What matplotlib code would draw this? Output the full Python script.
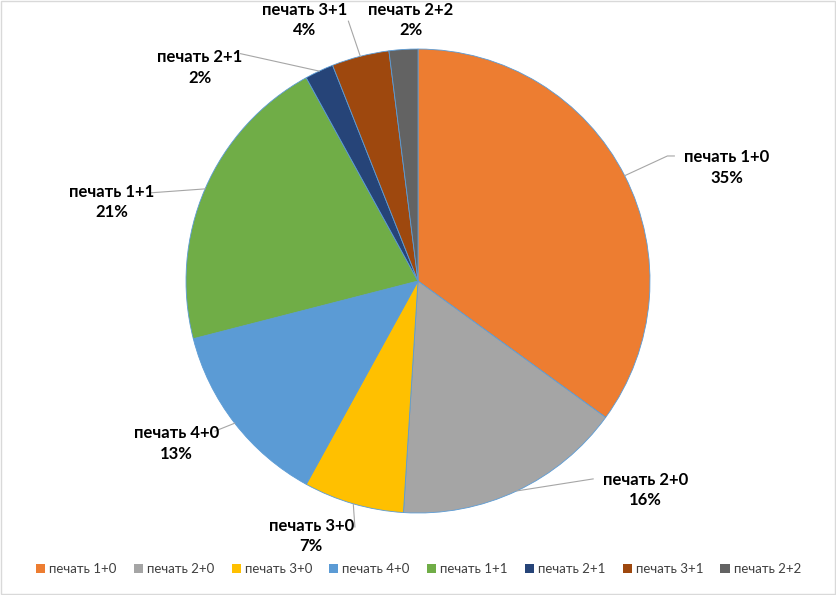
import matplotlib.pyplot as plt
import numpy as np
from matplotlib.patches import Rectangle, Patch

labels = ['печать 1+0', 'печать 2+0', 'печать 3+0', 'печать 4+0',
          'печать 1+1', 'печать 2+1', 'печать 3+1', 'печать 2+2']
values = [35, 16, 7, 13, 21, 2, 4, 2]
colors = ['#ED7D31', '#A5A5A5', '#FFC000', '#5B9BD5',
          '#70AD47', '#264478', '#9E480E', '#636363']

# label layout (data units, radius = 1)
label_pos = [(1.33, 0.49), (0.98, -0.90), (-0.46, -1.10), (-1.04, -0.70),
             (-1.32, 0.34), (-0.94, 0.92), (-0.49, 1.125), (-0.03, 1.125)]
# leader line end points (None = no leader)
leader_end = [[(1.075, 0.539), (1.105, 0.539)], [(0.755, -0.853)], [(-0.272, -1.06)],
              [(-0.875, -0.647)], [(-1.155, 0.38)], [(-0.765, 0.98)],
              [(-0.30, 1.12)], None]

plt.rcParams['font.family'] = ['Lato', 'DejaVu Sans']

fig = plt.figure(figsize=(8.37, 5.95), dpi=100)
fig.patches.append(Rectangle((0.001, 0.002), 0.997, 0.996, transform=fig.transFigure,
                             fill=False, edgecolor='#D9D9D9', linewidth=1))

ax = fig.add_axes([0.2222, 0.1378, 0.5544, 0.7798])
wedges, _ = ax.pie(values, colors=colors, startangle=90, counterclock=False,
                   radius=1, wedgeprops=dict(edgecolor='#5B9BD5', linewidth=0.6))
ax.set_xlim(-1, 1)
ax.set_ylim(-1, 1)
ax.set_aspect('equal')
ax.axis('off')

total = sum(values)
cum = 0
for i, v in enumerate(values):
    mid = (cum + v / 2) / total * 2 * np.pi
    cum += v
    ex, ey = np.sin(mid), np.cos(mid)
    if leader_end[i] is not None:
        xs = [ex] + [p[0] for p in leader_end[i]]
        ys = [ey] + [p[1] for p in leader_end[i]]
        ax.plot(xs, ys, color='#A6A6A6', linewidth=0.8, clip_on=False)
    lx, ly = label_pos[i]
    pct = round(v / total * 100)
    ax.text(lx, ly, f'{labels[i]}\n{pct}%', ha='center', va='center',
            fontsize=12, fontweight='bold', color='#000000',
            linespacing=1.35, clip_on=False)

handles = [Patch(facecolor=c, edgecolor='none') for c in colors]
fig.legend(handles, labels, loc='center', bbox_to_anchor=(0.5, 0.044), ncol=8,
           frameon=False, fontsize=9.5, handlelength=0.7, handleheight=0.7,
           handletextpad=0.3, columnspacing=1.3, labelcolor='#404040')

fig.savefig('out.png', dpi=100)
